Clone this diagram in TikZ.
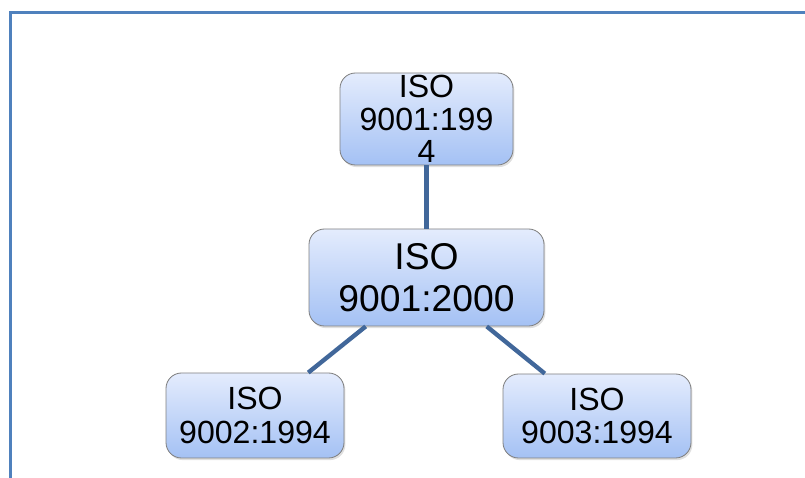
\documentclass[tikz,border=0pt]{standalone}
\usepackage{fontspec}
\setmainfont{Liberation Sans}
\usetikzlibrary{shadows}
\definecolor{frameblue}{HTML}{4F81BD}
\definecolor{linkblue}{HTML}{41679A}
\definecolor{boxtop}{HTML}{E4ECFD}
\definecolor{boxbottom}{HTML}{A4C1F4}
\definecolor{boxline}{HTML}{808080}
\tikzset{
  stdbox/.style={
    rounded corners=11pt,
    draw=boxline,
    line width=0.6pt,
    top color=boxtop,
    bottom color=boxbottom,
    drop shadow={shadow xshift=1pt, shadow yshift=-1.5pt, opacity=0.25},
    align=center,
    inner sep=0pt
  },
  link/.style={draw=linkblue, line width=3.1pt},
  pageline/.style={draw=frameblue, line width=2.1pt}
}

\begin{document}
\begin{tikzpicture}[x=0.025cm,y=-0.025cm]
\useasboundingbox (0,0) rectangle (805,478);
\draw[pageline] (10.5,478) -- (10.5,12.5) -- (805,12.5);

\node[stdbox, minimum width=173*0.025cm, minimum height=92*0.025cm,
  font=\fontsize{22.8}{23}\selectfont] (old) at (426.5,119) {ISO\\9001:199\\4};
\node[stdbox, minimum width=235*0.025cm, minimum height=97*0.025cm,
  font=\fontsize{26.5}{30}\selectfont] (new) at (426.5,277.5) {ISO\\9001:2000};
\node[stdbox, minimum width=178*0.025cm, minimum height=85*0.025cm,
  font=\fontsize{22.8}{24}\selectfont] (two) at (255,415.5) {ISO\\9002:1994};
\node[stdbox, minimum width=188*0.025cm, minimum height=84*0.025cm,
  font=\fontsize{22.8}{24}\selectfont] (three) at (597,416) {ISO\\9003:1994};

\draw[link] (old) -- (new);
\draw[link] (new) -- (two);
\draw[link] (new) -- (three);
\end{tikzpicture}
\end{document}
